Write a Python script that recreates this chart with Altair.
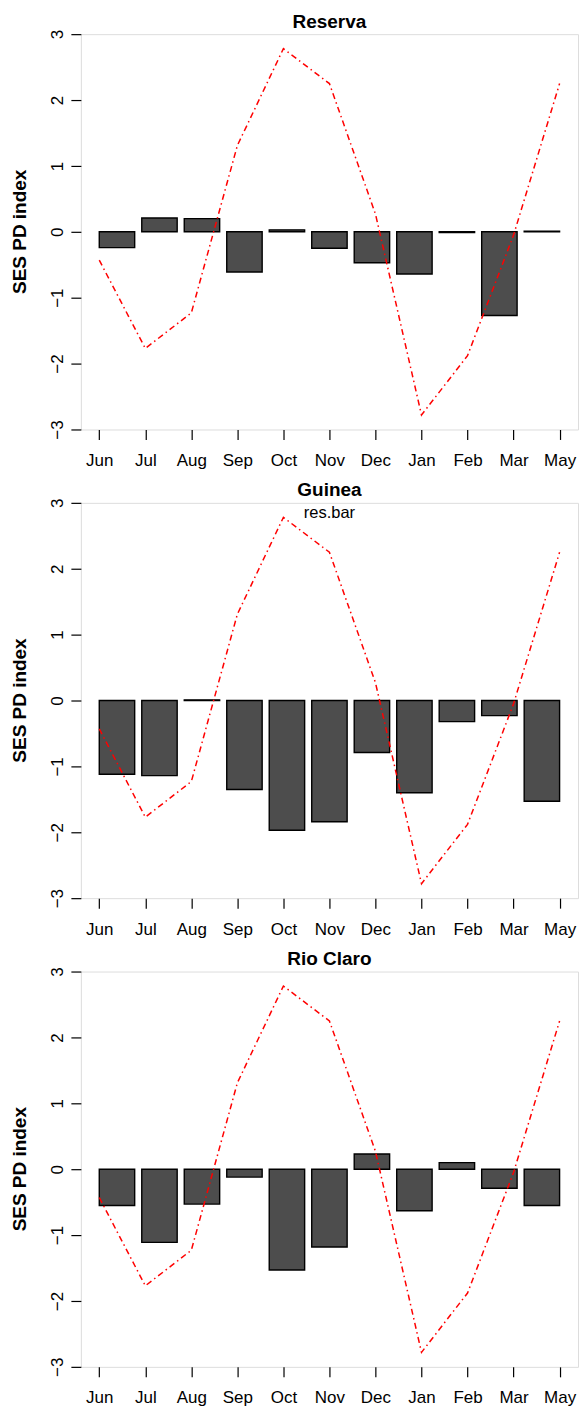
import altair as alt
import pandas as pd

# ---- data ----
months = ["Jun", "Jul", "Aug", "Sep", "Oct", "Nov", "Dec", "Jan", "Feb", "Mar", "May"]
climate_line = [-0.43, -1.77, -1.23, 1.31, 2.78, 2.25, 0.27, -2.78, -1.88, -0.05, 2.25]
reserva = [-0.24, 0.21, 0.20, -0.61, 0.03, -0.25, -0.47, -0.64, -0.01, -1.27, 0.01]
guinea = [-1.12, -1.14, 0.01, -1.35, -1.97, -1.84, -0.79, -1.40, -0.32, -0.23, -1.53]
rio_claro = [-0.55, -1.11, -0.53, -0.12, -1.53, -1.18, 0.23, -0.63, 0.10, -0.29, -0.55]
sites = ["Reserva", "Guinea", "Rio Claro"]
site_values = [reserva, guinea, rio_claro]
y_ticks = [-3, -2, -1, 0, 1, 2, 3]

W, H = 498, 396
FONT = "Liberation Sans"

idx = list(range(1, len(months) + 1))
# barplot (width 1, space 0.2) overlaid on plot(1:11): same 4% extended range
k = 10 / 13


def bar_frame(vals):
    return pd.DataFrame({
        "month": months,
        "ses": vals,
        "x0": [1 + 1.2 * i * k for i in range(len(months))],
        "x1": [1 + (1.2 * i + 1) * k for i in range(len(months))],
    })


line_df = pd.DataFrame({"i": idx, "val": climate_line, "month": months})

label_expr = "[" + ",".join(f"'{m}'" for m in months) + "][datum.value - 1]"
x_scale = alt.Scale(domain=[0.6, 11.4], nice=False, zero=False)
x_axis = alt.Axis(values=idx, labelExpr=label_expr, title=None, grid=False,
                  domain=False, tickSize=10, tickColor="black", tickWidth=1.2,
                  labelPadding=13, labelFontSize=17, labelColor="black",
                  labelFont=FONT, labelFlush=False, labelOverlap=False)
y_scale = alt.Scale(domain=[-3, 3], nice=False, zero=False)
y_axis = alt.Axis(values=y_ticks, title=None, grid=False, domain=False,
                  tickSize=10, tickColor="black", tickWidth=1.2,
                  labelAngle=270, labelAlign="center", labelBaseline="bottom",
                  labelPadding=4, labelFontSize=17, labelColor="black",
                  labelFont=FONT, labelFlush=False, labelOverlap=False)


def panel(site, vals, extra=None):
    bars = alt.Chart(bar_frame(vals)).mark_bar(
        color="#4D4D4D", stroke="black", strokeWidth=1.4
    ).encode(
        x=alt.X("x0:Q", scale=x_scale, axis=x_axis),
        x2="x1:Q",
        y=alt.Y("ses:Q", scale=y_scale, axis=y_axis),
        y2=alt.datum(0),
    )
    line = alt.Chart(line_df).mark_line(
        color="red", strokeWidth=1.5, strokeDash=[6, 3.5, 1.5, 3.5]
    ).encode(
        x=alt.X("i:Q", scale=x_scale, axis=x_axis),
        y=alt.Y("val:Q", scale=y_scale, axis=y_axis),
    )
    title = alt.Chart(pd.DataFrame({"t": [site]})).mark_text(
        font=FONT, fontSize=19, fontWeight="bold", align="center",
        baseline="alphabetic", color="black"
    ).encode(x=alt.value(W / 2), y=alt.value(-6.5), text="t:N")
    ytitle = alt.Chart(pd.DataFrame({"t": ["SES PD index"]})).mark_text(
        font=FONT, fontSize=19, fontWeight="bold", align="center",
        baseline="middle", angle=270, color="black"
    ).encode(x=alt.value(-60.5), y=alt.value(H / 2), text="t:N")
    anchor = alt.Chart(pd.DataFrame({"a": [0]})).mark_rule(
        strokeOpacity=0, strokeWidth=0.01
    ).encode(x=alt.value(-80), x2=alt.value(-79), y=alt.value(-32))
    layers = [bars, line, title, ytitle, anchor]
    if extra:
        layers.append(
            alt.Chart(pd.DataFrame({"t": [extra]})).mark_text(
                font=FONT, fontSize=16.5, align="center",
                baseline="alphabetic", color="black"
            ).encode(x=alt.value(W / 2), y=alt.value(15), text="t:N")
        )
    return alt.layer(*layers).properties(width=W, height=H)


panels = [
    panel(sites[0], site_values[0]),
    panel(sites[1], site_values[1], extra="res.bar"),
    panel(sites[2], site_values[2]),
]

chart = alt.vconcat(*panels, spacing=73.5, bounds="flush").properties(
    padding=0
).configure_view(
    stroke="black", strokeWidth=1.3
).configure(
    background="white", font=FONT
)

chart.save("out.html", embed_options={"renderer": "svg", "actions": False})
